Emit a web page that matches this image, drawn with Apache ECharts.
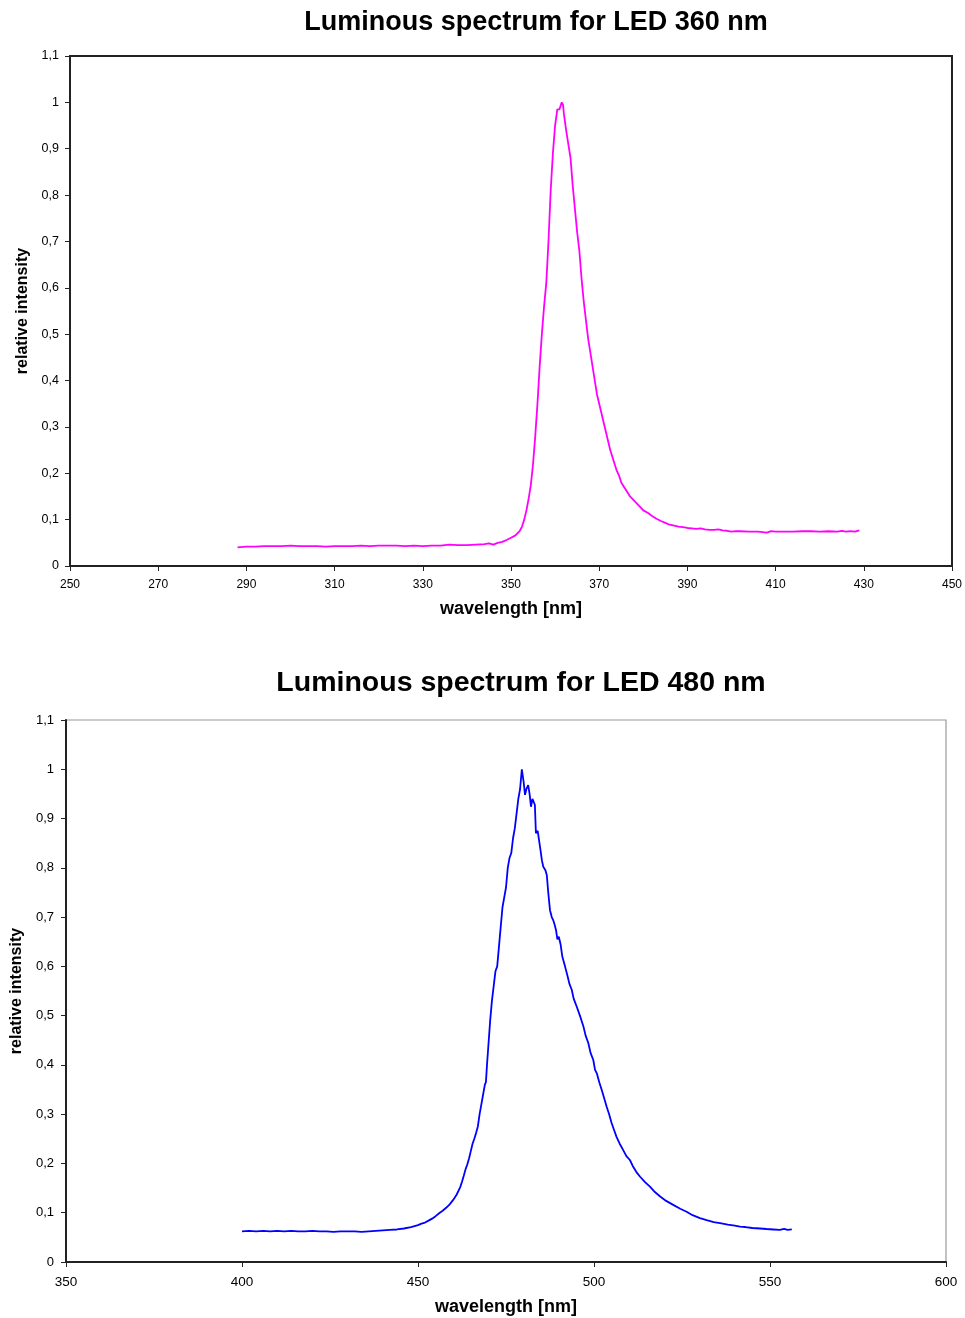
<!DOCTYPE html>
<html>
<head>
<meta charset="utf-8">
<script src="https://cdn.jsdelivr.net/npm/echarts@6/dist/echarts.min.js"></script>
<style>
html,body{margin:0;padding:0;background:#fff;}
#c{width:965px;height:1318px;}
</style>
</head>
<body>
<div id="c"></div>
<script>
// ---- data: LED 360 nm ----
var wl360 = [288,290,292,294,296,298,300,302,304,306,308,310,312,314,316,318,320,322,324,326,328,330,332,334,336,338,340,342,344,345,346,347,348,349,350,351,352,352.5,353,353.5,354,354.5,355,355.5,356,356.5,357,357.5,358,358.5,359,359.5,360,360.5,361,361.5,361.8,362,362.5,363,363.5,364,364.5,365,365.5,366,366.5,367,367.5,368,368.5,369,369.5,370,370.5,371,371.5,372,372.5,373,373.5,374,374.5,375,376,377,378,379,380,381,382,383,384,385,386,387,388,389,390,391,392,393,394,395,396,397,398,399,400,401,402,404,406,408,409,410,412,414,416,418,420,422,424,425,426,427,428,429];
var int360 = [0.040,0.042,0.042,0.043,0.043,0.043,0.044,0.043,0.043,0.043,0.042,0.043,0.043,0.043,0.044,0.043,0.044,0.044,0.044,0.043,0.044,0.043,0.044,0.044,0.046,0.045,0.045,0.046,0.047,0.049,0.046,0.050,0.052,0.056,0.061,0.066,0.076,0.085,0.100,0.120,0.145,0.175,0.220,0.280,0.350,0.430,0.500,0.560,0.610,0.700,0.810,0.890,0.950,0.985,0.985,1.000,0.995,0.975,0.940,0.910,0.880,0.820,0.770,0.720,0.680,0.620,0.570,0.530,0.490,0.460,0.430,0.400,0.370,0.350,0.330,0.310,0.290,0.270,0.250,0.235,0.220,0.205,0.195,0.180,0.165,0.150,0.140,0.130,0.120,0.115,0.108,0.102,0.097,0.093,0.089,0.087,0.085,0.084,0.082,0.081,0.080,0.081,0.079,0.078,0.078,0.079,0.077,0.076,0.074,0.075,0.075,0.074,0.074,0.072,0.075,0.074,0.074,0.074,0.075,0.075,0.074,0.075,0.074,0.076,0.074,0.075,0.074,0.077];

// ---- data: LED 480 nm ----
var wl480 = [400,402,404,406,408,410,412,414,416,418,420,422,424,426,428,430,432,434,436,438,440,442,444,446,448,449,450,451,452,453,454,455,456,457,458,459,460,461,462,462.5,463,463.5,464,464.5,465,465.5,466,466.5,467,467.5,468,468.5,469,469.3,469.6,470,470.5,471,471.5,472,472.5,473,473.5,474,474.5,475,475.5,476,476.5,477,477.5,478,478.5,479,479.5,480,480.4,480.8,481.3,481.7,482.1,482.5,482.8,483.2,483.5,484,484.3,484.8,485.2,485.6,486.2,486.6,487,487.5,488,488.4,488.8,489.2,489.6,490,490.5,491,491.8,492.5,493,493.7,494.2,495.1,496,497,497.6,498.4,499,499.8,500.3,500.8,501.5,502.2,503,503.6,504.3,505,505.7,506.4,507.3,508.3,509.2,510.2,511,512,513.1,514.5,515.9,517.3,518.8,520.5,522.5,524.5,526.3,528,530.1,532,534,535.8,538,540,541.5,543,545,547.2,549,551,552.8,554,555,556.2];
var int480 = [0.062,0.063,0.062,0.063,0.062,0.063,0.062,0.063,0.062,0.062,0.063,0.062,0.062,0.061,0.062,0.062,0.062,0.061,0.062,0.063,0.064,0.065,0.066,0.068,0.071,0.073,0.075,0.078,0.080,0.084,0.088,0.093,0.099,0.104,0.110,0.117,0.126,0.137,0.152,0.163,0.175,0.188,0.198,0.210,0.225,0.240,0.250,0.262,0.275,0.300,0.320,0.340,0.360,0.365,0.400,0.440,0.490,0.530,0.560,0.590,0.600,0.640,0.680,0.720,0.740,0.760,0.800,0.820,0.830,0.860,0.880,0.910,0.940,0.960,1.000,0.975,0.948,0.960,0.968,0.950,0.924,0.940,0.941,0.928,0.870,0.875,0.877,0.836,0.815,0.802,0.795,0.785,0.750,0.714,0.700,0.694,0.685,0.674,0.655,0.660,0.645,0.620,0.599,0.580,0.565,0.552,0.535,0.518,0.500,0.478,0.460,0.444,0.425,0.410,0.390,0.383,0.365,0.349,0.330,0.315,0.300,0.282,0.268,0.254,0.240,0.227,0.215,0.207,0.195,0.183,0.173,0.162,0.153,0.142,0.133,0.124,0.116,0.108,0.102,0.095,0.089,0.085,0.081,0.079,0.076,0.074,0.072,0.071,0.069,0.068,0.067,0.066,0.065,0.067,0.065,0.066];

var titles = ['Luminous spectrum for LED 360 nm', 'Luminous spectrum for LED 480 nm'];
var xName = 'wavelength [nm]';
var yName = 'relative intensity';

function pairs(xs, ys){ var out=[]; for(var i=0;i<xs.length;i++) out.push([xs[i], ys[i]]); return out; }
var FONT = 'Liberation Sans, Arial, sans-serif';
function yFmt(v){ return String(Math.round(v*10)/10).replace('.', ','); }

var chart = echarts.init(document.getElementById('c'), null, {renderer:'canvas'});
chart.setOption({
  animation:false,
  backgroundColor:'#fff',
  graphic:[
    {type:'text', x:536, y:23, style:{text:titles[0], textAlign:'center', textVerticalAlign:'middle', font:'bold 27px ' + FONT, fill:'#000'}},
    {type:'text', x:521, y:683, style:{text:titles[1], textAlign:'center', textVerticalAlign:'middle', font:'bold 28.5px ' + FONT, fill:'#000'}}
  ],
  grid:[
    {left:70, right:13, top:56, height:510, show:true, borderColor:'#222', borderWidth:2, backgroundColor:'#fff'},
    {left:66, right:19, top:720, height:542, show:true, borderColor:'#999', borderWidth:1.2, backgroundColor:'#fff'}
  ],
  xAxis:[
    {type:'value', gridIndex:0, min:250, max:450, interval:20,
     name:xName, nameLocation:'middle', nameGap:34, nameTextStyle:{fontFamily:FONT, fontWeight:'bold', fontSize:18, color:'#000'},
     axisLine:{show:true, onZero:false, lineStyle:{color:'#222', width:2}},
     axisTick:{show:true, inside:false, length:5, lineStyle:{color:'#222', width:1}},
     axisLabel:{fontFamily:FONT, fontSize:12, color:'#000', margin:13},
     splitLine:{show:false}},
    {type:'value', gridIndex:1, min:350, max:600, interval:50,
     name:xName, nameLocation:'middle', nameGap:36, nameTextStyle:{fontFamily:FONT, fontWeight:'bold', fontSize:18, color:'#000'},
     axisLine:{show:true, onZero:false, lineStyle:{color:'#222', width:2}},
     axisTick:{show:true, inside:false, length:5, lineStyle:{color:'#222', width:1}},
     axisLabel:{fontFamily:FONT, fontSize:13.5, color:'#000', margin:13},
     splitLine:{show:false}}
  ],
  yAxis:[
    {type:'value', gridIndex:0, min:0, max:1.1, interval:0.1,
     name:yName, nameLocation:'middle', nameGap:36, nameRotate:90, nameTextStyle:{fontFamily:FONT, fontWeight:'bold', fontSize:16, color:'#000'},
     axisLine:{show:true, onZero:false, lineStyle:{color:'#222', width:2}},
     axisTick:{show:true, inside:false, length:5, lineStyle:{color:'#222', width:1}},
     axisLabel:{fontFamily:FONT, fontSize:12.5, color:'#000', margin:11, formatter:yFmt},
     splitLine:{show:false}},
    {type:'value', gridIndex:1, min:0, max:1.1, interval:0.1,
     name:yName, nameLocation:'middle', nameGap:39, nameRotate:90, nameTextStyle:{fontFamily:FONT, fontWeight:'bold', fontSize:16, color:'#000'},
     axisLine:{show:true, onZero:false, lineStyle:{color:'#222', width:2}},
     axisTick:{show:true, inside:false, length:5, lineStyle:{color:'#222', width:1}},
     axisLabel:{fontFamily:FONT, fontSize:13, color:'#000', margin:12, formatter:yFmt},
     splitLine:{show:false}}
  ],
  series:[
    {type:'line', xAxisIndex:0, yAxisIndex:0, data:pairs(wl360, int360), showSymbol:false, symbol:'none',
     lineStyle:{color:'#FF00FF', width:1.8}},
    {type:'line', xAxisIndex:1, yAxisIndex:1, data:pairs(wl480, int480), showSymbol:false, symbol:'none',
     lineStyle:{color:'#0000FF', width:1.8}}
  ]
});
</script>
</body>
</html>
